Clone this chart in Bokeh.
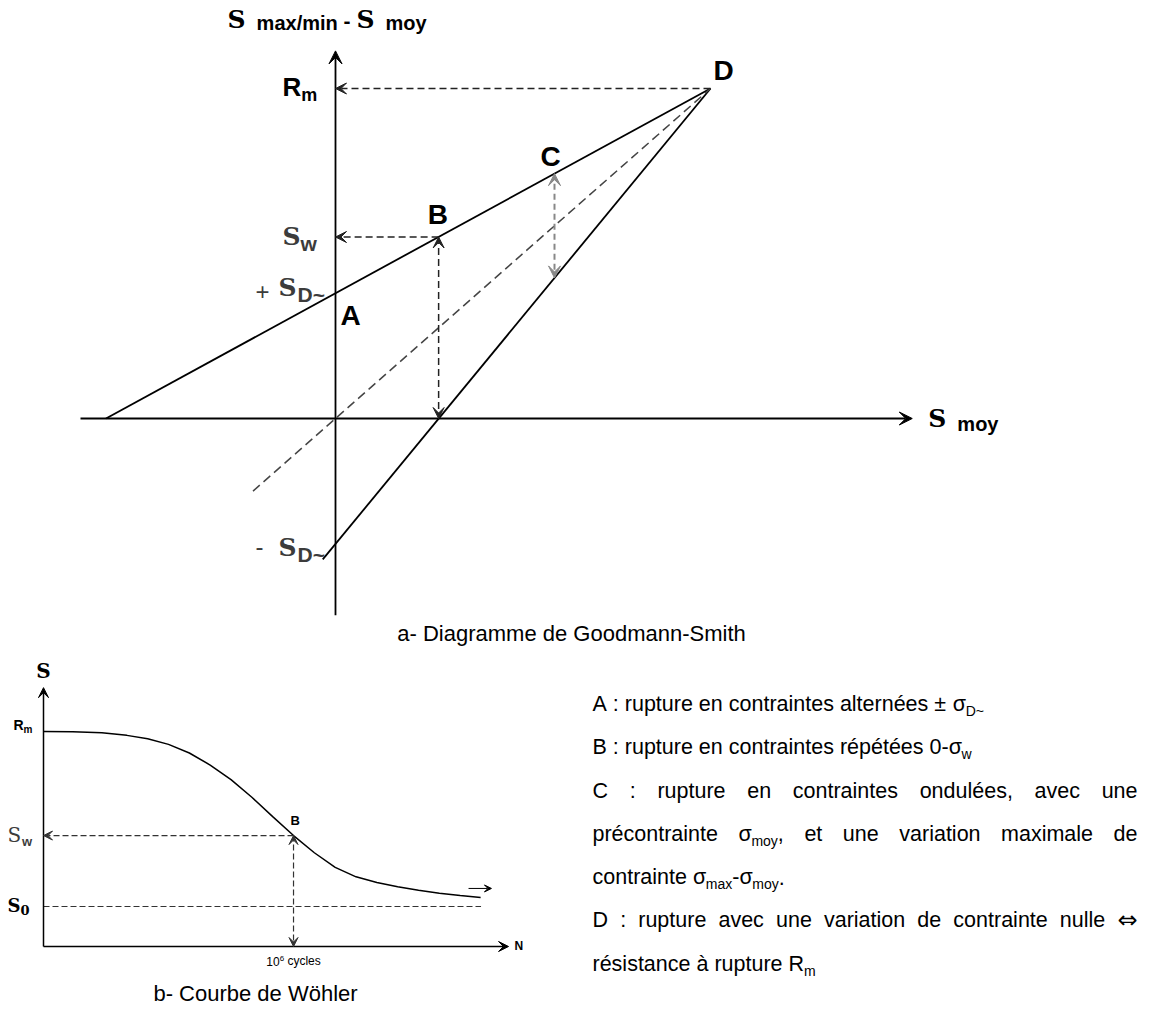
from bokeh.plotting import figure
from bokeh.models import Range1d, Arrow, VeeHead
from bokeh.layouts import column, row
from bokeh.core.properties import value
from bokeh.embed import file_html
from bokeh.resources import INLINE

# ---------------- Goodman-Smith diagram (stress units, MPa) ----------------
RM = 500            # ultimate strength (point D)
SIGMA_D = 190       # fully reversed endurance limit (point A)
SIGMA_W = 275       # repeated (0 - sigma_w) endurance limit (point B)
B_MOY = 137.5       # mean stress at B
C_MOY = 292         # mean stress at C
C_MAX = 371         # max stress at C
C_MIN = 213         # min stress at C

gs_upper_x = [-306, 500]
gs_upper_y = [0, 500]
gs_lower_x = [-17, 500]
gs_lower_y = [-213.5, 500]
gs_mean_x = [-110, 500]
gs_mean_y = [-110, 500]
GS_X_AXIS = [-340, 769]
GS_Y_AXIS = [-298, 557]

# ---------------- Woehler curve (log10 N, stress) ----------------
wohler_logN = [0, 0.7, 1.4, 2.0, 2.5, 3.0, 3.5, 4.0, 4.5, 5.0, 5.5, 6.0,
               6.5, 7.0, 7.5, 8.0, 8.5, 9.0, 9.5, 10.0, 10.49]
wohler_S = [500, 499.5, 497, 491, 483, 470, 450, 422, 388, 347, 302, 258,
            218, 184, 162, 149, 139, 131, 124, 118.5, 114]
W_RM = 500
W_SIGMA_W = 258
W_SIGMA_0 = 93
W_LOGN_B = 6
W_S0_END = 10.5
W_N_AXIS = [0, 11.16]
W_S_AXIS = [0, 602]
W_TAIL = [10.2, 10.75, 135]

# ---------------- explanatory text (0 = normal, 1 = subscript, 2 = symbol) ----------------
NOTES = [
    [("A : rupture en contraintes alternées ± σ", 0), ("D~", 1)],
    [("B : rupture en contraintes répétées 0-σ", 0), ("w", 1)],
    [("C : rupture en contraintes ondulées, avec une", 0)],
    [("précontrainte σ", 0), ("moy", 1), (", et une variation maximale de", 0)],
    [("contrainte σ", 0), ("max", 1), ("-σ", 0), ("moy", 1), (".", 0)],
    [("D : rupture avec une variation de contrainte nulle ", 0), ("⇔", 2)],
    [("résistance à rupture R", 0), ("m", 1)],
]
JUSTIFIED = [2, 3, 5]

# ---------------- text metrics (Arial / Liberation Sans, DejaVu) ----------------
SANS = {' ': 278, ':': 278, ',': 278, '.': 278, '-': 333, '0': 556, '1': 556, '6': 556,
        '~': 584, '±': 584, 'σ': 600, '+': 584,
        'a': 556, 'b': 556, 'c': 500, 'd': 556, 'e': 556, 'f': 278, 'g': 556, 'h': 556,
        'i': 222, 'j': 222, 'k': 500, 'l': 222, 'm': 833, 'n': 556, 'o': 556, 'p': 556,
        'q': 556, 'r': 333, 's': 500, 't': 278, 'u': 556, 'v': 500, 'w': 722, 'x': 500,
        'y': 500, 'z': 500, 'é': 556, 'à': 556, 'ö': 556,
        'A': 667, 'B': 667, 'C': 722, 'D': 722, 'G': 778, 'N': 722, 'R': 722, 'S': 667,
        'W': 944}
SANS_B = {' ': 278, '-': 333, '/': 278, '~': 584, '0': 556, 'a': 556, 'm': 889, 'x': 556,
          'i': 278, 'n': 611, 'o': 611, 'y': 556, 'w': 778, 'A': 722, 'B': 722, 'C': 722,
          'D': 722, 'N': 722, 'R': 722}
SERIF = {'S': 720, '0': 696, ' ': 348}
SYMBOL = {'⇔': 838}
RAISE = 0.42   # baseline correction of the svg text box, in em


def tw(s, size, bold=False, serif=False, symbol=False):
    if symbol:
        table = SYMBOL
    else:
        table = SERIF if serif else (SANS_B if bold else SANS)
    return sum(table.get(ch, 556) for ch in s) * size / 1000.0


def txt(p, x, y, s, dx, dy, size, bold=False, serif=False, color="black", align="left",
        symbol=False):
    font = "DejaVu Sans" if symbol else ("DejaVu Serif" if serif else "Liberation Sans")
    p.text(x=[x], y=[y], text=[s], x_offset=dx, y_offset=dy - RAISE * size,
           text_font=value(font), text_font_size=f"{size:.1f}px",
           text_font_style="bold" if bold else "normal", text_color=color,
           text_align=align, text_baseline="alphabetic")


def rich(p, x, y, pieces, dx, dy, align="left"):
    # pieces: (text, size, bold, serif, baseline shift, colour); spaces are kept as advances
    total = sum(tw(s, z, b, f) for s, z, b, f, _, _ in pieces)
    cur = dx - (total / 2 if align == "center" else 0)
    for s, z, b, f, sh, c in pieces:
        lead = s[:len(s) - len(s.lstrip(' '))]
        body = s.strip(' ')
        if body:
            txt(p, x, y, body, cur + tw(lead, z, b, f), dy + sh, z, b, f, c)
        cur += tw(s, z, b, f)


def blank(w, h, xr, yr):
    p = figure(width=w, height=h, x_range=xr, y_range=yr, output_backend="svg",
               toolbar_location=None, min_border=0, x_axis_type=None, y_axis_type=None)
    p.outline_line_color = None
    p.background_fill_color = "white"
    p.border_fill_color = "white"
    return p


def arrow(p, x0, y0, x1, y1, color="black", width=1.5, dash="solid", size=11, both=False):
    head = dict(size=size, fill_color=color, line_color=color, line_width=1)
    p.add_layout(Arrow(start=VeeHead(**head) if both else None, end=VeeHead(**head),
                       x_start=x0, y_start=y0, x_end=x1, y_end=y1,
                       line_color=color, line_width=width, line_dash=dash))


# =============== a- Goodman-Smith ===============
GW, GH = 1154, 655
OX, OY, KX, KY = 335, 418, 0.75, 0.66   # origin on the page and px per MPa
gs = blank(GW, GH, Range1d(-OX / KX, (GW - OX) / KX), Range1d((OY - GH) / KY, OY / KY))

arrow(gs, GS_X_AXIS[0], 0, GS_X_AXIS[1], 0, width=1.8, size=13)
arrow(gs, 0, GS_Y_AXIS[0], 0, GS_Y_AXIS[1], width=1.8, size=13)
gs.line(gs_upper_x, gs_upper_y, line_color="black", line_width=1.8)
gs.line(gs_lower_x, gs_lower_y, line_color="black", line_width=1.8)
gs.line(gs_mean_x, gs_mean_y, line_color="#444444", line_width=1.5, line_dash="9 5")
arrow(gs, RM, RM, 0, RM, color="#222222", dash="7 4")
arrow(gs, B_MOY, SIGMA_W, 0, SIGMA_W, color="#222222", dash="7 4")
arrow(gs, B_MOY, SIGMA_W, B_MOY, 0, color="#222222", dash="7 4", both=True)
arrow(gs, C_MOY, C_MAX, C_MOY, C_MIN, color="#888888", width=2, dash="6 4", size=12, both=True)

GREY = "#3c3c3c"
rich(gs, 0, GS_Y_AXIS[1], [("S", 25, True, True, 0, "black"),
                           ("  max/min", 20, True, False, 2, "black"),
                           (" - ", 21, True, False, 0, "black"),
                           ("S", 25, True, True, 0, "black"),
                           ("  moy", 20, True, False, 2, "black")], -108, -21)
rich(gs, GS_X_AXIS[1], 0, [("S", 25, True, True, 0, "black"),
                           ("  moy", 20, True, False, 4, "black")], 16, 10)
rich(gs, 0, RM, [("R", 26, True, False, 0, "black"), ("m", 18, True, False, 5, "black")], -53, 9)
rich(gs, 0, SIGMA_W, [("S", 25, True, True, 0, GREY), ("w", 21, True, False, 5, GREY)], -53, 10)
txt(gs, 0, SIGMA_D, "+", -80, 8, 24, color=GREY)
txt(gs, 0, SIGMA_D, "S", -57, 5, 25, bold=True, serif=True, color=GREY)
txt(gs, 0, SIGMA_D, "D~", -38, 10, 21, bold=True, color=GREY)
txt(gs, 0, -SIGMA_D, "-", -80, 13, 24, color=GREY)
txt(gs, 0, -SIGMA_D, "S", -57, 14, 25, bold=True, serif=True, color=GREY)
txt(gs, 0, -SIGMA_D, "D~", -38, 19, 21, bold=True, color=GREY)
txt(gs, 0, SIGMA_D, "A", 5, 34, 28, bold=True)
txt(gs, B_MOY, SIGMA_W, "B", -11, -11, 28, bold=True)
txt(gs, C_MOY, C_MAX, "C", -14, -5, 28, bold=True)
txt(gs, RM, RM, "D", 3, -6, 28, bold=True)
txt(gs, 0, 0, "a- Diagramme de Goodmann-Smith", 236, 224, 22, align="center")

# =============== b- Courbe de Woehler ===============
WW, WH = 560, 1017 - GH
WX, WY, WKX, WKY = 43, 946 - GH, 41.67, 0.43
wo = blank(WW, WH, Range1d(-WX / WKX, (WW - WX) / WKX), Range1d((WY - WH) / WKY, WY / WKY))

arrow(wo, 0, 0, W_N_AXIS[1], 0, width=1.5, size=10)
arrow(wo, 0, 0, 0, W_S_AXIS[1], width=1.5, size=10)
wo.line(wohler_logN, wohler_S, line_color="black", line_width=1.5)
arrow(wo, W_LOGN_B, W_SIGMA_W, 0, W_SIGMA_W, color="#333333", width=1.2, dash="6 3", size=9)
arrow(wo, W_LOGN_B, W_SIGMA_W, W_LOGN_B, 0, color="#333333", width=1.2, dash="6 3", size=9, both=True)
wo.line([0, W_S0_END], [W_SIGMA_0, W_SIGMA_0], line_color="#333333", line_width=1.2, line_dash="6 3")
arrow(wo, W_TAIL[0], W_TAIL[2], W_TAIL[1], W_TAIL[2], width=1, size=7)

txt(wo, 0, W_S_AXIS[1], "S", 0, -8, 20, bold=True, serif=True, align="center")
rich(wo, 0, W_RM, [("R", 14, True, False, 0, "black"), ("m", 10, True, False, 3, "black")], -30, -1)
rich(wo, 0, W_SIGMA_W, [("S", 20, False, True, 0, GREY), ("w", 13, True, False, 3, GREY)], -36, 8)
rich(wo, 0, W_SIGMA_0, [("S", 18, True, True, 0, "black"), ("0", 13, True, True, 2, "black")], -36, 7)
txt(wo, W_LOGN_B, W_SIGMA_W, "B", -3, -10, 13, bold=True)
rich(wo, W_LOGN_B, 0, [("10", 12, False, False, 0, "black"), ("6", 8, False, False, -5, "black"),
                       (" cycles", 12, False, False, 0, "black")], 0, 20, align="center")
txt(wo, W_N_AXIS[1], 0, "N", 6, 5, 12, bold=True)
txt(wo, 0, 0, "b- Courbe de Wöhler", 212, 56, 22, align="center")

# =============== notes ===============
TBW = GW - WW
tb = blank(TBW, WH, Range1d(0, TBW), Range1d(WH, 0))
LEFT, RIGHT, TOP, STEP, FS, SUB, SYM = 32, 577, 57.5, 43.3, 21.5, 14, 24


def note_line(y, line, justify):
    # split into words, each word may hold several runs (text + subscripts)
    words = [[]]
    for s, kind in line:
        for j, part in enumerate(s.split(' ')):
            if j > 0:
                words.append([])
            if part:
                words[-1].append((part, kind))
    words = [w for w in words if w]

    def run_w(t, kind):
        if kind == 2:
            return tw(t, SYM, symbol=True)
        return tw(t, SUB if kind == 1 else FS)

    widths = [sum(run_w(t, k) for t, k in w) for w in words]
    gap = tw(' ', FS)
    if justify and len(words) > 1:
        gap = (RIGHT - LEFT - sum(widths)) / (len(words) - 1)
    x = LEFT
    for w, wd in zip(words, widths):
        cur = x
        for t, k in w:
            if k == 2:
                txt(tb, 0, y, t, cur, 1, SYM, symbol=True)
            else:
                txt(tb, 0, y, t, cur, 4 if k == 1 else 0, SUB if k == 1 else FS)
            cur += run_w(t, k)
        x += wd + gap


for i, line in enumerate(NOTES):
    note_line(TOP + i * STEP, line, i in JUSTIFIED)

layout = column(gs, row(wo, tb))
open("out.html", "w").write(file_html(layout, INLINE))
